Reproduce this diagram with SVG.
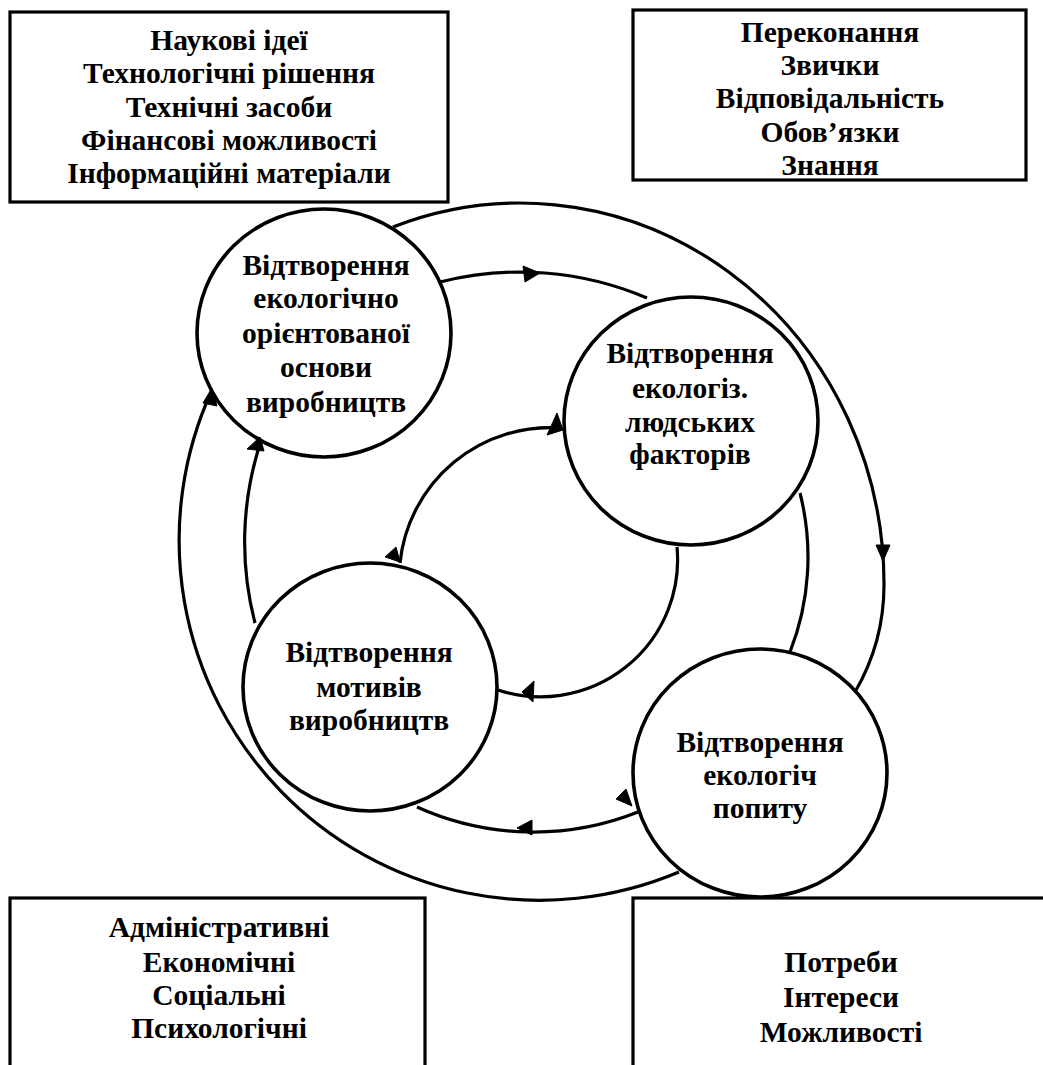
<svg xmlns="http://www.w3.org/2000/svg" width="1043" height="1065" viewBox="0 0 1043 1065">
<style>
.box{fill:#fff;stroke:#000;stroke-width:3.2}
.node ellipse{fill:#fff;stroke:#000;stroke-width:3.6}
.conn path{fill:none;stroke:#000;stroke-width:3.2}
.conn polygon{fill:#000;stroke:#000;stroke-width:1}
text{font-family:"Liberation Serif","Times New Roman",serif;font-weight:bold;font-size:29.5px;text-anchor:middle;fill:#000}
</style>
<rect width="1043" height="1065" fill="#fff"/>
<g id="box-top-left">
<rect class="box" x="10" y="12" width="438" height="190"/>
<text x="229" y="50">Наукові ідеї</text>
<text x="229" y="83">Технологічні рішення</text>
<text x="229" y="117">Технічні засоби</text>
<text x="229" y="150">Фінансові можливості</text>
<text x="229" y="183">Інформаційні матеріали</text>
</g>
<g id="box-top-right">
<rect class="box" x="633" y="10" width="393" height="170"/>
<text x="830" y="42">Переконання</text>
<text x="830" y="75">Звички</text>
<text x="830" y="108">Відповідальність</text>
<text x="830" y="142">Обов’язки</text>
<text x="830" y="175">Знання</text>
</g>
<g id="box-bottom-left">
<rect class="box" x="10" y="898" width="415" height="200"/>
<text x="219" y="937">Адміністративні</text>
<text x="219" y="972">Економічні</text>
<text x="219" y="1005">Соціальні</text>
<text x="219" y="1038">Психологічні</text>
</g>
<g id="box-bottom-right">
<rect class="box" x="633" y="898" width="450" height="200"/>
<text x="841" y="972">Потреби</text>
<text x="841" y="1007">Інтереси</text>
<text x="841" y="1042">Можливості</text>
</g>
<g id="node-osnova" class="node">
<ellipse cx="324" cy="333" rx="127" ry="124"/>
<text x="326" y="275">Відтворення</text>
<text x="326" y="308">екологічно</text>
<text x="326" y="343">орієнтованої</text>
<text x="326" y="377">основи</text>
<text x="326" y="412">виробництв</text>
</g>
<g id="node-faktory" class="node">
<ellipse cx="691" cy="421" rx="127" ry="124"/>
<text x="690" y="363">Відтворення</text>
<text x="690" y="398">екологіз.</text>
<text x="690" y="432">людських</text>
<text x="690" y="464">факторів</text>
</g>
<g id="node-motyvy" class="node">
<ellipse cx="370" cy="687" rx="127" ry="124"/>
<text x="369" y="662">Відтворення</text>
<text x="369" y="697">мотивів</text>
<text x="369" y="730">виробництв</text>
</g>
<g id="node-popyt" class="node">
<ellipse cx="760" cy="773" rx="127" ry="124"/>
<text x="760" y="752">Відтворення</text>
<text x="760" y="785">екологіч</text>
<text x="760" y="818">попиту</text>
</g>
<g id="connectors" class="conn">
<path d="M393,227 A364,381 0 0 1 884,585 A212,212 0 0 1 855,692"/>
<path d="M679,872 A360,360 0 0 1 212,390"/>
<path d="M440,282 A325,325 0 0 1 647,298"/>
<path d="M800,493 A260,260 0 0 1 790,652"/>
<path d="M638,812 A283,283 0 0 1 417,807"/>
<path d="M255,623 A321,321 0 0 1 260,444"/>
<path d="M562,428 A151,151 0 0 0 400,563"/>
<path d="M677,547 A137,137 0 0 1 498,690"/>
<polygon points="883,561 876,545 890,545"/>
<polygon points="212,388 203,403 217,406"/>
<polygon points="540,273 523,266 525,282"/>
<polygon points="260,437 247,449 264,451"/>
<polygon points="557,413 547,435 563,430"/>
<polygon points="385,557 396,547 400,562"/>
<polygon points="522,692 534,681 533,702"/>
<polygon points="517,828 532,820 532,835"/>
<polygon points="616,799 626,789 632,806"/>
</g>
</svg>
